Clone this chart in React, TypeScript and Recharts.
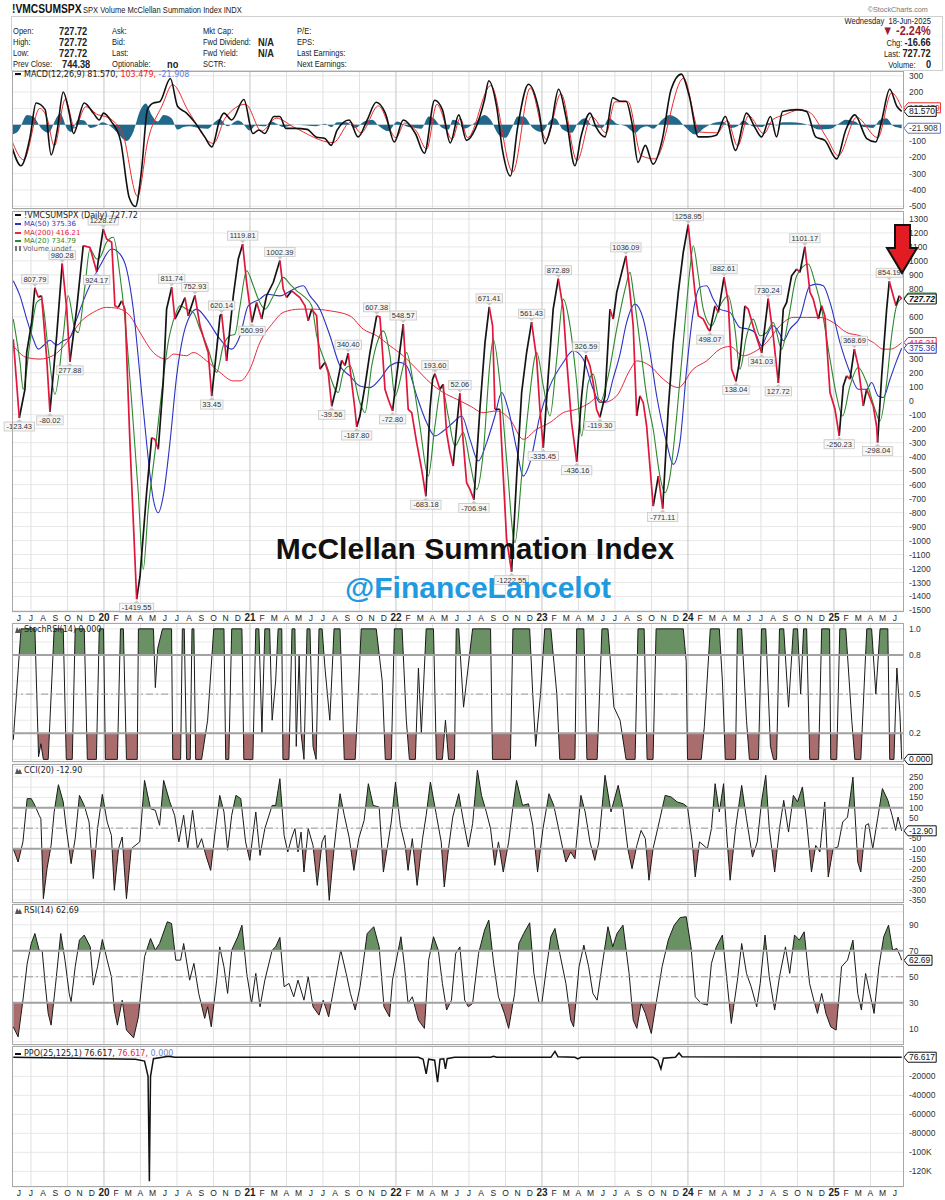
import React from 'react';
import {
  Area,
  CartesianGrid,
  ComposedChart,
  Line,
  ReferenceDot,
  ReferenceLine,
  XAxis,
  YAxis,
} from 'recharts';

// ─── Layout ──────────────────────────────────────────────────────────────────

const W = 945;
const PLOT_LEFT = 13;
const AXIS_W = 42;
const PLOT_W = W - PLOT_LEFT - AXIS_W;
const X_START = 2019.377;
const X_END = 2025.473;

const UI_FONT = "'Liberation Sans', Arial, sans-serif";
const NARROW = "'Liberation Sans Narrow', 'Liberation Sans', Arial, sans-serif";
const LEGEND_FONT = "'DejaVu Sans', Verdana, sans-serif";

const GREEN_FILL = '#6a9163';
const RED_FILL = '#a96d6d';

// ─── Time axis labels ────────────────────────────────────────────────────────

const monthLetters = ['J', 'F', 'M', 'A', 'M', 'J', 'J', 'A', 'S', 'O', 'N', 'D'];
const FIRST_YEAR = 2019;
const FIRST_MONTH = 5; // June
const MONTH_COUNT = 73;

const monthTicks: number[] = [];
const monthIndex: number[] = [];
const monthLabels: string[] = [];
for (let i = 0; i < MONTH_COUNT; i++) {
  const m = (FIRST_MONTH + i) % 12;
  const y = FIRST_YEAR + Math.floor((FIRST_MONTH + i) / 12);
  monthTicks.push(y + m / 12);
  monthIndex.push(m);
  monthLabels.push(m === 0 ? String(y).slice(2) : monthLetters[m]);
}
const quarterTicks = monthTicks.filter((_, i) => monthIndex[i] % 3 === 0 && monthIndex[i] !== 0);
const yearTicks = monthTicks.filter((_, i) => monthIndex[i] === 0);

// ─── Summation index (daily close, read at turning points) ───────────────────

const sumDates = [
  2019.379, 2019.42, 2019.459, 2019.471, 2019.505, 2019.527, 2019.55, 2019.573, 2019.608, 2019.63,
  2019.676, 2019.714, 2019.745, 2019.767, 2019.813, 2019.858, 2019.904, 2019.95, 2019.995, 2020.018,
  2020.053, 2020.075, 2020.098, 2020.121, 2020.144, 2020.178, 2020.224, 2020.247, 2020.292, 2020.327,
  2020.349, 2020.372, 2020.406, 2020.429, 2020.464, 2020.486, 2020.521, 2020.555, 2020.577, 2020.623,
  2020.658, 2020.692, 2020.714, 2020.738, 2020.772, 2020.795, 2020.806, 2020.84, 2020.886, 2020.92,
  2020.95, 2020.977, 2021.014, 2021.046, 2021.08, 2021.114, 2021.16, 2021.205, 2021.228, 2021.251,
  2021.286, 2021.342, 2021.377, 2021.399, 2021.423, 2021.457, 2021.479, 2021.514, 2021.536, 2021.56,
  2021.594, 2021.628, 2021.651, 2021.673, 2021.697, 2021.719, 2021.731, 2021.753, 2021.788, 2021.822,
  2021.868, 2021.89, 2021.902, 2021.925, 2021.947, 2021.977, 2022.005, 2022.05, 2022.084, 2022.108,
  2022.142, 2022.176, 2022.205, 2022.233, 2022.251, 2022.267, 2022.301, 2022.324, 2022.347, 2022.37,
  2022.392, 2022.416, 2022.438, 2022.461, 2022.484, 2022.507, 2022.534, 2022.575, 2022.61, 2022.639,
  2022.662, 2022.678, 2022.712, 2022.735, 2022.758, 2022.792, 2022.827, 2022.861, 2022.895, 2022.929,
  2022.964, 2022.986, 2023.009, 2023.043, 2023.077, 2023.112, 2023.146, 2023.169, 2023.203, 2023.238,
  2023.272, 2023.301, 2023.329, 2023.351, 2023.374, 2023.397, 2023.432, 2023.466, 2023.488, 2023.512,
  2023.575, 2023.603, 2023.625, 2023.649, 2023.671, 2023.694, 2023.717, 2023.762, 2023.797, 2023.827,
  2023.865, 2023.899, 2023.934, 2023.968, 2024.002, 2024.025, 2024.048, 2024.071, 2024.105, 2024.139,
  2024.151, 2024.185, 2024.208, 2024.247, 2024.276, 2024.299, 2024.329, 2024.356, 2024.39, 2024.413,
  2024.459, 2024.505, 2024.55, 2024.584, 2024.619, 2024.653, 2024.676, 2024.71, 2024.745, 2024.767,
  2024.801, 2024.836, 2024.858, 2024.893, 2024.916, 2024.938, 2024.973, 2025.007, 2025.036, 2025.064,
  2025.087, 2025.11, 2025.14, 2025.166, 2025.201, 2025.224, 2025.269, 2025.292, 2025.299, 2025.327,
  2025.361, 2025.379, 2025.406, 2025.425, 2025.447, 2025.464,
];
const sumValues = [
  440, -123.43, 82, 347, 562, 807.79, 741, 750, 300, -80.02,
  464, 980.28, 655, 277.88, 655, 1109, 1097, 924.17, 1228.27, 1157,
  1133, 679, 667, 715, 655, -300, -1419.55, -1255, -658, -264,
  -276, -347, 130, 655, 811.74, 584, 655, 738, 607, 752.93,
  536, 417, 345, 33.45, 369, 607, 620.14, 285, 751, 1014,
  1119.81, 847, 560.99, 703, 584, 751, 847, 1002.39, 799, 738,
  786, 738, 679, 572, 655, 607, 226, 274, 202, -39.56,
  106, 289, 252, 340.4, 130, -61, -187.8, -110, 106, 345,
  607.38, 600, 440, 82, 11, -72.8, 178, 548.57, -61, -85,
  -299, -491, -683.18, -61, 154, 193.6, 82, 118, -228, -371,
  -467, -180, 52.06, -299, -586, -634, -706.94, -61, 417, 671.41,
  536, -61, -61, -539, -992, -1222.55, -539, 59, 345, 561.43,
  297, -61, -335.45, 178, 655, 872.89, 655, 297, -156, -436.16,
  34, 326.59, 249, 130, -61, -119.3, 34, 655, 584, 775,
  1036.09, 775, 536, -109, 34, -14, -181, -754, -539, -771.11,
  -61, 417, 775, 1062, 1258.95, 1014, 775, 607, 584, 512,
  498.07, 679, 632, 882.61, 703, 226, 138.04, 297, 679, 655,
  488, 341.03, 730.24, 465, 127.72, 655, 703, 894, 942, 918,
  1101.17, 775, 727, 584, 679, 607, 59, -61, -250.23, 106,
  178, 154, 368.69, 249, -37, 82, -37, -181, -298.04, 178,
  655, 854.19, 751, 679, 751, 727.72,
];

// ─── Moving averages ─────────────────────────────────────────────────────────

const ma20Dates = [
  2019.379, 2019.425, 2019.447, 2019.493, 2019.539, 2019.573, 2019.618, 2019.664, 2019.721, 2019.755,
  2019.801, 2019.824, 2019.87, 2019.904, 2019.95, 2019.973, 2020.018, 2020.064, 2020.11, 2020.144,
  2020.19, 2020.235, 2020.269, 2020.303, 2020.349, 2020.395, 2020.44, 2020.486, 2020.521, 2020.566,
  2020.612, 2020.658, 2020.714, 2020.749, 2020.772, 2020.817, 2020.863, 2020.897, 2020.932, 2020.977,
  2021.023, 2021.057, 2021.103, 2021.149, 2021.194, 2021.228, 2021.274, 2021.32, 2021.365, 2021.423,
  2021.457, 2021.525, 2021.605, 2021.639, 2021.685, 2021.753, 2021.788, 2021.834, 2021.879, 2021.913,
  2021.959, 2021.993, 2022.05, 2022.073, 2022.118, 2022.164, 2022.221, 2022.267, 2022.313, 2022.358,
  2022.404, 2022.461, 2022.507, 2022.553, 2022.598, 2022.644, 2022.666, 2022.712, 2022.758, 2022.815,
  2022.861, 2022.906, 2022.964, 2023.009, 2023.055, 2023.101, 2023.146, 2023.192, 2023.238, 2023.272,
  2023.317, 2023.351, 2023.397, 2023.454, 2023.512, 2023.575, 2023.603, 2023.626, 2023.671, 2023.717,
  2023.762, 2023.808, 2023.842, 2023.877, 2023.923, 2023.968, 2024.014, 2024.036, 2024.071, 2024.105,
  2024.162, 2024.219, 2024.276, 2024.322, 2024.356, 2024.402, 2024.447, 2024.493, 2024.539, 2024.584,
  2024.642, 2024.688, 2024.745, 2024.824, 2024.87, 2024.916, 2024.973, 2025.018, 2025.059, 2025.11,
  2025.166, 2025.224, 2025.281, 2025.315, 2025.361, 2025.395, 2025.429, 2025.464,
];
const ma20Values = [
  584, 274, 82, 417, 703, 727, 369, 47, 465, 751,
  512, 488, 822, 1085, 1014, 1025, 1133, 1169, 894, 584,
  -13, -658, -1207, -778, -371, 59, 417, 607, 679, 655,
  632, 512, 369, 250, 202, 393, 465, 476, 679, 930,
  822, 727, 655, 727, 822, 882, 834, 786, 750, 679,
  465, 250, 59, 202, 250, -13, -85, 250, 440, 500,
  322, 35, 250, 345, 130, -180, -539, -180, 106, -109,
  -324, -228, -443, -634, -371, 274, 440, 130, -419, -1015,
  -539, -61, 345, 106, -109, 297, 727, 536, 130, -252,
  130, 190, -13, 178, 512, 822, 918, 775, 417, 34,
  -204, -539, -658, -539, -109, 417, 942, 1109, 894, 655,
  536, 679, 751, 512, 226, 465, 584, 465, 488, 560,
  369, 584, 894, 978, 846, 655, 297, 34, -109, 106,
  238, 130, -61, -145, 130, 465, 679, 734.79,
];

const ma50Dates = [
  2019.379, 2019.425, 2019.471, 2019.516, 2019.55, 2019.584, 2019.63, 2019.676, 2019.721, 2019.767,
  2019.813, 2019.882, 2019.973, 2020.053, 2020.11, 2020.155, 2020.201, 2020.247, 2020.292, 2020.338,
  2020.372, 2020.406, 2020.452, 2020.498, 2020.543, 2020.589, 2020.635, 2020.703, 2020.795, 2020.875,
  2020.932, 2020.988, 2021.068, 2021.114, 2021.205, 2021.297, 2021.365, 2021.411, 2021.479, 2021.548,
  2021.616, 2021.685, 2021.753, 2021.822, 2021.89, 2021.959, 2022.027, 2022.073, 2022.142, 2022.21,
  2022.267, 2022.324, 2022.392, 2022.45, 2022.507, 2022.564, 2022.621, 2022.678, 2022.724, 2022.769,
  2022.827, 2022.872, 2022.918, 2022.986, 2023.055, 2023.146, 2023.214, 2023.283, 2023.351, 2023.397,
  2023.443, 2023.488, 2023.534, 2023.58, 2023.637, 2023.694, 2023.74, 2023.786, 2023.854, 2023.899,
  2023.945, 2023.991, 2024.036, 2024.082, 2024.128, 2024.173, 2024.219, 2024.288, 2024.356, 2024.413,
  2024.459, 2024.505, 2024.539, 2024.584, 2024.63, 2024.653, 2024.699, 2024.767, 2024.836, 2024.881,
  2024.927, 2024.973, 2025.041, 2025.11, 2025.166, 2025.224, 2025.258, 2025.303, 2025.338, 2025.384,
  2025.429, 2025.464,
];
const ma50Values = [
  858, 750, 584, 440, 369, 393, 433, 398, 429, 453,
  584, 775, 965, 1085, 1049, 942, 655, 178, -300, -706,
  -801, -682, -300, 178, 465, 607, 655, 584, 440, 369,
  465, 679, 727, 762, 750, 798, 822, 750, 655, 465,
  250, 178, 106, 94, 154, 250, 274, 250, 35, -156,
  -252, -216, -156, -109, -276, -431, -300, -109, 59, -61,
  -347, -539, -443, -109, 106, 274, 357, 297, 82, -13,
  0, 160, 330, 560, 691, 584, 345, 34, -300, -455,
  -300, 226, 632, 811, 822, 727, 655, 632, 524, 512,
  488, 393, 465, 536, 476, 429, 512, 596, 822, 834,
  822, 703, 417, 202, 82, 82, 130, 34, 23, 154,
  285, 375.36,
];

const ma200Dates = [
  2019.379, 2019.471, 2019.562, 2019.653, 2019.745, 2019.836, 2019.927, 2020.018, 2020.087, 2020.178,
  2020.247, 2020.338, 2020.429, 2020.475, 2020.566, 2020.612, 2020.703, 2020.795, 2020.886, 2020.932,
  2021.0, 2021.068, 2021.16, 2021.228, 2021.342, 2021.434, 2021.548, 2021.685, 2021.776, 2021.868,
  2021.959, 2022.05, 2022.142, 2022.233, 2022.324, 2022.416, 2022.507, 2022.598, 2022.69, 2022.781,
  2022.872, 2022.964, 2023.055, 2023.146, 2023.238, 2023.329, 2023.375, 2023.42, 2023.512, 2023.603,
  2023.651, 2023.74, 2023.831, 2023.934, 2024.036, 2024.128, 2024.219, 2024.288, 2024.379, 2024.447,
  2024.539, 2024.63, 2024.721, 2024.813, 2024.904, 2024.995, 2025.087, 2025.178, 2025.269, 2025.338,
  2025.384, 2025.464,
];
const ma200Values = [
  393, 309, 298, 324, 417, 560, 632, 668, 662, 607,
  488, 345, 298, 334, 322, 345, 285, 202, 142, 142,
  226, 417, 560, 632, 655, 655, 643, 607, 512, 465,
  393, 321, 226, 130, 59, 11, -37, -85, -73, -133,
  -276, -204, -156, -85, -61, -13, 23, -13, 35, 220,
  285, 250, 154, 94, 226, 285, 369, 388, 321, 345,
  417, 536, 596, 596, 596, 560, 488, 465, 417, 369,
  369, 416.21,
];

// ─── Annotated swing highs / lows ────────────────────────────────────────────

const tagDates = [
  2019.42, 2019.527, 2019.63, 2019.714, 2019.767, 2019.95, 2019.995, 2020.224, 2020.464, 2020.623,
  2020.738, 2020.806, 2020.95, 2021.014, 2021.205, 2021.56, 2021.673, 2021.731, 2021.868, 2021.977,
  2022.05, 2022.205, 2022.267, 2022.438, 2022.534, 2022.639, 2022.792, 2022.929, 2023.009, 2023.112,
  2023.238, 2023.301, 2023.397, 2023.575, 2023.827, 2024.002, 2024.151, 2024.247, 2024.329, 2024.505,
  2024.55, 2024.619, 2024.801, 2025.036, 2025.14, 2025.299, 2025.379,
];
const tagValues = [
  -123.43, 807.79, -80.02, 980.28, 277.88, 924.17, 1228.27, -1419.55, 811.74, 752.93,
  33.45, 620.14, 1119.81, 560.99, 1002.39, -39.56, 340.4, -187.8, 607.38, -72.8,
  548.57, -683.18, 193.6, 52.06, -706.94, 671.41, -1222.55, 561.43, -335.45, 872.89,
  -436.16, 326.59, -119.3, 1036.09, -771.11, 1258.95, 498.07, 882.61, 138.04, 341.03,
  730.24, 127.72, 1101.17, -250.23, 368.69, -298.04, 854.19,
];
// 'a' = label above the point, 'b' = below
const tagSides = [
  'b', 'a', 'b', 'a', 'b', 'b', 'a', 'b', 'a', 'a',
  'b', 'a', 'a', 'b', 'a', 'b', 'a', 'b', 'a', 'b',
  'a', 'b', 'a', 'a', 'b', 'a', 'b', 'a', 'b', 'a',
  'b', 'a', 'b', 'a', 'b', 'a', 'b', 'a', 'b', 'b',
  'a', 'b', 'a', 'b', 'a', 'b', 'a',
];

// ─── MACD(12,26,9) ───────────────────────────────────────────────────────────

const macdDates = [
  2019.37, 2019.432, 2019.494, 2019.535, 2019.597, 2019.638, 2019.68, 2019.721, 2019.762, 2019.791,
  2019.865, 2019.927, 2019.968, 2019.997, 2020.051, 2020.113, 2020.174, 2020.216, 2020.257, 2020.298,
  2020.339, 2020.381, 2020.455, 2020.504, 2020.566, 2020.628, 2020.69, 2020.739, 2020.793, 2020.822,
  2020.875, 2020.958, 2021.02, 2021.061, 2021.102, 2021.164, 2021.205, 2021.246, 2021.308, 2021.391,
  2021.453, 2021.514, 2021.556, 2021.597, 2021.679, 2021.741, 2021.803, 2021.865, 2021.927, 2021.989,
  2022.05, 2022.133, 2022.195, 2022.265, 2022.318, 2022.372, 2022.43, 2022.483, 2022.545, 2022.607,
  2022.636, 2022.689, 2022.73, 2022.784, 2022.834, 2022.908, 2022.978, 2023.019, 2023.061, 2023.114,
  2023.164, 2023.226, 2023.267, 2023.329, 2023.37, 2023.432, 2023.485, 2023.535, 2023.576, 2023.617,
  2023.658, 2023.708, 2023.761, 2023.823, 2023.885, 2023.955, 2024.009, 2024.071, 2024.133, 2024.194,
  2024.256, 2024.326, 2024.401, 2024.462, 2024.504, 2024.565, 2024.607, 2024.648, 2024.751, 2024.813,
  2024.875, 2024.937, 2025.019, 2025.081, 2025.143, 2025.225, 2025.287, 2025.328, 2025.382, 2025.431,
  2025.464,
];
const macdValues = [
  -137, -252, -75, 133, 92, -185, -33, 200, 71, -54,
  133, 71, 29, 71, 19, -96, -450, -502, -283, 92,
  133, 140, 283, 113, 71, 8, -75, -137, 29, 71,
  29, 154, -54, -33, -54, 50, 50, -23, -23, -29,
  -75, -85, -127, -33, 29, -75, 29, 137, 71, -106,
  29, -54, -175, 150, 92, -112, 60, -96, -23, 154,
  269, 113, -158, -315, -13, 248, 92, -117, -13, 217,
  50, -252, -75, 71, -13, -75, 165, 144, 144, 8,
  -231, -127, -242, -96, 217, 310, 175, -75, -75, -65,
  50, -158, 71, -23, -75, 50, -75, 81, 92, 81,
  -75, -96, -210, -33, 60, -85, -106, 29, 217, 113,
  81.57,
];

const signalDates = [
  2019.37, 2019.45, 2019.56, 2019.61, 2019.66, 2019.735, 2019.8, 2019.875, 2019.96, 2020.01,
  2020.06, 2020.13, 2020.23, 2020.3, 2020.4, 2020.47, 2020.58, 2020.75, 2020.83, 2020.97,
  2021.08, 2021.18, 2021.3, 2021.57, 2021.69, 2021.76, 2021.88, 2022.0, 2022.06, 2022.14,
  2022.21, 2022.28, 2022.385, 2022.44, 2022.49, 2022.65, 2022.8, 2022.92, 2023.03, 2023.13,
  2023.24, 2023.34, 2023.44, 2023.5, 2023.59, 2023.68, 2023.775, 2023.97, 2024.08, 2024.2,
  2024.27, 2024.34, 2024.415, 2024.52, 2024.58, 2024.66, 2024.76, 2024.825, 2024.95, 2025.03,
  2025.155, 2025.3, 2025.395, 2025.464,
];
const signalValues = [
  -100, -215, 100, 40, -130, 155, -20, 110, 60, 50,
  25, -60, -440, -100, 120, 245, 80, -115, 40, 125,
  -40, 40, -15, -110, 15, -50, 115, -80, 10, -40,
  -150, 125, -90, 40, -80, 240, -290, 225, -90, 190,
  -220, 50, -50, 140, 140, -190, -210, 285, -45, -50,
  25, -130, 55, -55, 30, 60, 90, 80, -80, -190,
  45, -80, 195, 103.479,
];

const histDates = [
  2019.37, 2019.412, 2019.474, 2019.515, 2019.577, 2019.618, 2019.68, 2019.7, 2019.75, 2019.775,
  2019.824, 2019.865, 2019.906, 2019.948, 2019.989, 2020.051, 2020.092, 2020.154, 2020.203, 2020.245,
  2020.286, 2020.327, 2020.368, 2020.409, 2020.463, 2020.504, 2020.546, 2020.587, 2020.649, 2020.71,
  2020.764, 2020.793, 2020.846, 2020.917, 2020.937, 2020.999, 2021.04, 2021.102, 2021.143, 2021.185,
  2021.226, 2021.308, 2021.391, 2021.453, 2021.514, 2021.556, 2021.597, 2021.659, 2021.721, 2021.782,
  2021.836, 2021.885, 2021.947, 2022.009, 2022.071, 2022.133, 2022.174, 2022.224, 2022.257, 2022.318,
  2022.36, 2022.389, 2022.43, 2022.463, 2022.545, 2022.607, 2022.648, 2022.702, 2022.751, 2022.793,
  2022.834, 2022.875, 2022.937, 2022.999, 2023.061, 2023.089, 2023.143, 2023.205, 2023.246, 2023.296,
  2023.349, 2023.411, 2023.461, 2023.514, 2023.576, 2023.638, 2023.679, 2023.72, 2023.761, 2023.823,
  2023.873, 2023.926, 2023.988, 2024.05, 2024.112, 2024.174, 2024.236, 2024.297, 2024.339, 2024.38,
  2024.442, 2024.504, 2024.557, 2024.607, 2024.648, 2024.71, 2024.772, 2024.834, 2024.895, 2024.978,
  2025.04, 2025.081, 2025.143, 2025.205, 2025.266, 2025.316, 2025.357, 2025.41, 2025.452, 2025.464,
];
const histValues = [
  -60, -40, 60, 50, -30, -50, 50, 70, -30, -45,
  30, 25, -20, -10, 15, -15, -50, -100, -40, 80,
  130, 60, 20, 60, 40, -30, -15, -10, -20, -25,
  20, 35, -10, 25, 20, -35, -5, -10, 20, 5,
  -15, 0, -5, -10, 5, -15, 15, 15, -20, 20,
  30, -10, -40, 20, -10, -20, -25, 50, 40, -20,
  -30, 30, 15, -25, 15, 60, 30, -60, -80, -20,
  50, 50, -20, -45, 30, 40, -30, -50, 10, 40,
  -10, -20, 40, 5, -10, -50, -20, -10, -25, 30,
  60, 40, -20, -60, -20, 10, 20, -20, -10, 25,
  -10, -15, 10, -5, 15, 15, 10, -5, -30, -25,
  10, 30, 20, -15, -20, 30, 40, -10, -20, -21.908,
];

// ─── StochRSI(14) ────────────────────────────────────────────────────────────

const stochDates = [
  2019.379, 2019.432, 2019.527, 2019.552, 2019.568, 2019.585, 2019.618, 2019.659, 2019.721, 2019.742,
  2019.783, 2019.803, 2019.865, 2019.886, 2019.948, 2019.968, 2019.997, 2020.01, 2020.092, 2020.113,
  2020.133, 2020.154, 2020.228, 2020.236, 2020.339, 2020.352, 2020.368, 2020.401, 2020.463, 2020.471,
  2020.525, 2020.537, 2020.55, 2020.566, 2020.591, 2020.603, 2020.616, 2020.628, 2020.669, 2020.71,
  2020.752, 2020.822, 2020.834, 2020.855, 2020.875, 2020.945, 2020.958, 2021.02, 2021.04, 2021.061,
  2021.082, 2021.102, 2021.135, 2021.152, 2021.176, 2021.193, 2021.218, 2021.226, 2021.267, 2021.288,
  2021.308, 2021.317, 2021.337, 2021.35, 2021.37, 2021.391, 2021.411, 2021.432, 2021.453, 2021.473,
  2021.494, 2021.514, 2021.547, 2021.576, 2021.617, 2021.646, 2021.721, 2021.762, 2021.865, 2021.906,
  2021.927, 2021.968, 2021.989, 2022.042, 2022.071, 2022.092, 2022.133, 2022.154, 2022.174, 2022.207,
  2022.257, 2022.277, 2022.318, 2022.339, 2022.36, 2022.401, 2022.413, 2022.43, 2022.463, 2022.504,
  2022.525, 2022.648, 2022.661, 2022.784, 2022.801, 2022.916, 2022.937, 2022.957, 2022.99, 2023.019,
  2023.061, 2023.102, 2023.122, 2023.226, 2023.238, 2023.287, 2023.308, 2023.378, 2023.411, 2023.452,
  2023.493, 2023.535, 2023.576, 2023.638, 2023.658, 2023.7, 2023.72, 2023.761, 2023.782, 2023.968,
  2023.988, 2023.997, 2024.091, 2024.112, 2024.153, 2024.215, 2024.236, 2024.256, 2024.326, 2024.339,
  2024.368, 2024.401, 2024.421, 2024.483, 2024.504, 2024.533, 2024.565, 2024.586, 2024.607, 2024.627,
  2024.656, 2024.689, 2024.722, 2024.751, 2024.772, 2024.792, 2024.813, 2024.834, 2024.895, 2024.916,
  2024.97, 2024.978, 2025.019, 2025.04, 2025.081, 2025.122, 2025.143, 2025.184, 2025.225, 2025.258,
  2025.287, 2025.316, 2025.369, 2025.382, 2025.411, 2025.431, 2025.452, 2025.464,
];
const stochValues = [
  0.15, 1, 1, 0.02, 0.12, 0, 0, 1, 1, 0,
  0, 1, 1, 0, 0, 1, 1, 0, 0, 1,
  1, 0, 0, 1, 1, 0.55, 0.85, 1, 1, 0,
  0, 1, 1, 0, 0, 1, 1, 0, 0, 0.3,
  1, 1, 0, 0, 1, 1, 0, 0, 1, 1,
  0.2, 1, 1, 0.3, 0.6, 1, 1, 0, 0, 1,
  1, 0.1, 0.8, 0.2, 0, 1, 1, 0.1, 0, 1,
  1, 0.7, 0.3, 1, 1, 0, 0, 1, 1, 0.6,
  0, 0, 1, 1, 0.3, 0, 0, 0.7, 0.2, 1,
  1, 0, 0, 0.3, 0, 0, 1, 1, 0.4, 0.8,
  1, 1, 0, 0, 1, 1, 0.5, 0.1, 0.5, 1,
  1, 0.5, 0, 0, 1, 1, 0, 0, 1, 1,
  0.4, 0.3, 0, 0, 1, 1, 0, 0, 1, 1,
  0.75, 0, 0, 0.25, 1, 1, 0.6, 0, 0, 1,
  1, 0.3, 0, 0, 1, 1, 0.1, 0, 0, 1,
  1, 0.4, 1, 1, 0.5, 1, 1, 0, 0, 1,
  1, 0, 0, 1, 1, 0.3, 0, 0, 1, 1,
  0.5, 1, 1, 0, 0, 0.7, 0.35, 0,
];

// ─── CCI(20) ─────────────────────────────────────────────────────────────────

const cciDates = [
  2019.379, 2019.412, 2019.445, 2019.474, 2019.502, 2019.527, 2019.556, 2019.568, 2019.585, 2019.61,
  2019.638, 2019.659, 2019.688, 2019.721, 2019.742, 2019.775, 2019.803, 2019.832, 2019.865, 2019.898,
  2019.927, 2019.956, 2019.989, 2020.022, 2020.051, 2020.071, 2020.1, 2020.125, 2020.154, 2020.187,
  2020.245, 2020.278, 2020.319, 2020.352, 2020.381, 2020.409, 2020.451, 2020.484, 2020.513, 2020.546,
  2020.574, 2020.607, 2020.64, 2020.669, 2020.698, 2020.731, 2020.764, 2020.793, 2020.822, 2020.847,
  2020.875, 2020.904, 2020.937, 2020.97, 2020.999, 2021.04, 2021.069, 2021.102, 2021.152, 2021.176,
  2021.205, 2021.234, 2021.259, 2021.284, 2021.308, 2021.329, 2021.35, 2021.37, 2021.399, 2021.432,
  2021.461, 2021.494, 2021.514, 2021.543, 2021.576, 2021.617, 2021.646, 2021.679, 2021.712, 2021.745,
  2021.782, 2021.811, 2021.844, 2021.885, 2021.914, 2021.947, 2021.968, 2021.997, 2022.03, 2022.063,
  2022.083, 2022.112, 2022.145, 2022.182, 2022.207, 2022.236, 2022.277, 2022.31, 2022.331, 2022.36,
  2022.389, 2022.43, 2022.463, 2022.496, 2022.525, 2022.558, 2022.586, 2022.619, 2022.648, 2022.677,
  2022.702, 2022.735, 2022.772, 2022.801, 2022.826, 2022.867, 2022.908, 2022.937, 2022.97, 2023.007,
  2023.048, 2023.081, 2023.114, 2023.143, 2023.164, 2023.197, 2023.226, 2023.267, 2023.296, 2023.329,
  2023.362, 2023.39, 2023.432, 2023.473, 2023.522, 2023.555, 2023.588, 2023.617, 2023.65, 2023.679,
  2023.708, 2023.733, 2023.761, 2023.803, 2023.844, 2023.885, 2023.926, 2023.968, 2023.997, 2024.029,
  2024.05, 2024.079, 2024.133, 2024.161, 2024.186, 2024.215, 2024.244, 2024.269, 2024.289, 2024.326,
  2024.368, 2024.401, 2024.442, 2024.475, 2024.504, 2024.533, 2024.557, 2024.594, 2024.627, 2024.656,
  2024.689, 2024.722, 2024.751, 2024.784, 2024.813, 2024.846, 2024.875, 2024.904, 2024.937, 2024.961,
  2024.994, 2025.027, 2025.06, 2025.093, 2025.13, 2025.163, 2025.184, 2025.217, 2025.237, 2025.266,
  2025.299, 2025.332, 2025.369, 2025.398, 2025.423, 2025.439, 2025.464,
];
const cciValues = [
  -100, -165, -67, 144, 144, 111, 63, 46, -344, -197,
  -84, 79, 212, 128, -2, -173, -51, 160, 111, 30,
  -246, -2, 165, 30, -35, -303, -100, -43, -344, -100,
  -67, 233, 95, 87, 14, 233, 128, 63, -67, 63,
  -100, 87, -100, -51, -133, -206, -2, 160, 79, -108,
  63, 160, 144, -67, -157, 79, -133, -2, 111, 111,
  241, -35, -116, -51, -2, -116, -19, -214, -2, -84,
  -279, -67, -35, -352, -100, 168, 63, -43, -206, -51,
  38, 217, 111, 103, -214, -67, 30, 225, 14, -84,
  -206, -51, -279, -51, 63, 225, 63, -67, -287, -100,
  54, 168, 30, -92, 22, 282, 160, 79, -2, -181,
  -67, -214, -67, 103, 233, 111, 119, 14, -214, -2,
  168, 111, -2, -100, -165, -116, -149, 160, 79, -67,
  -157, -67, 258, 79, 209, 95, -100, -198, -84, -11,
  -51, -254, -100, 30, 160, 152, 128, 119, 103, -67,
  -238, -67, -100, -2, 217, 79, 217, -67, -254, -2,
  209, 46, -141, -67, 128, 258, -2, -214, -2, 136,
  -19, 160, 128, 201, 30, -214, -84, -116, 128, -238,
  -100, -92, 30, 54, 249, -165, -214, 14, 22, -100,
  46, 193, 136, 63, -11, 54, -12.9,
];

// ─── RSI(14) ─────────────────────────────────────────────────────────────────

const rsiDates = [
  2019.379, 2019.412, 2019.445, 2019.474, 2019.502, 2019.527, 2019.556, 2019.577, 2019.597, 2019.618,
  2019.638, 2019.667, 2019.704, 2019.733, 2019.762, 2019.775, 2019.803, 2019.832, 2019.865, 2019.906,
  2019.927, 2019.956, 2019.989, 2020.022, 2020.051, 2020.071, 2020.092, 2020.125, 2020.154, 2020.203,
  2020.236, 2020.278, 2020.319, 2020.352, 2020.381, 2020.434, 2020.463, 2020.492, 2020.525, 2020.546,
  2020.587, 2020.616, 2020.649, 2020.69, 2020.71, 2020.735, 2020.772, 2020.793, 2020.822, 2020.847,
  2020.875, 2020.917, 2020.945, 2020.978, 2021.011, 2021.04, 2021.069, 2021.102, 2021.152, 2021.176,
  2021.205, 2021.234, 2021.267, 2021.3, 2021.329, 2021.37, 2021.399, 2021.432, 2021.473, 2021.502,
  2021.539, 2021.576, 2021.622, 2021.659, 2021.688, 2021.721, 2021.754, 2021.803, 2021.848, 2021.885,
  2021.918, 2021.956, 2021.976, 2022.034, 2022.059, 2022.083, 2022.112, 2022.154, 2022.195, 2022.224,
  2022.257, 2022.29, 2022.318, 2022.347, 2022.38, 2022.409, 2022.438, 2022.471, 2022.496, 2022.525,
  2022.566, 2022.607, 2022.636, 2022.669, 2022.702, 2022.743, 2022.772, 2022.813, 2022.842, 2022.875,
  2022.916, 2022.945, 2022.978, 2022.999, 2023.032, 2023.061, 2023.089, 2023.122, 2023.164, 2023.197,
  2023.217, 2023.254, 2023.287, 2023.32, 2023.349, 2023.378, 2023.411, 2023.452, 2023.485, 2023.514,
  2023.555, 2023.597, 2023.625, 2023.65, 2023.679, 2023.708, 2023.749, 2023.782, 2023.823, 2023.865,
  2023.906, 2023.947, 2023.988, 2024.021, 2024.05, 2024.091, 2024.133, 2024.161, 2024.194, 2024.236,
  2024.269, 2024.297, 2024.339, 2024.368, 2024.401, 2024.433, 2024.471, 2024.495, 2024.528, 2024.557,
  2024.594, 2024.627, 2024.668, 2024.697, 2024.73, 2024.763, 2024.796, 2024.833, 2024.862, 2024.887,
  2024.916, 2024.945, 2024.978, 2025.015, 2025.052, 2025.093, 2025.13, 2025.163, 2025.188, 2025.217,
  2025.246, 2025.275, 2025.308, 2025.341, 2025.374, 2025.402, 2025.431, 2025.456, 2025.464,
];
const rsiValues = [
  11.5, 3.8, 32, 60, 75.6, 83.3, 70.5, 70, 44.9, 21.8,
  12.8, 42.3, 83.3, 62.8, 37.2, 30.8, 57.7, 78.2, 82.1, 73,
  43.6, 57.7, 78.7, 62.8, 50, 24.4, 12.8, 32, 9, 3,
  19.2, 65.4, 79.5, 70.5, 75.6, 92.3, 91, 62.8, 62.8, 75.6,
  47.4, 60.3, 37.2, 18, 26.9, 11.5, 47.4, 73, 57.7, 37.2,
  70.5, 80.8, 89.7, 52.6, 29.5, 52.6, 26.9, 47.4, 70.5, 73,
  80.3, 42.3, 44.9, 34.6, 47.4, 32, 50, 26.9, 20.5, 32,
  19.2, 42.3, 70.5, 52.6, 37.2, 24.4, 42.3, 83.3, 88.5, 73,
  26.9, 19.2, 47.4, 80.8, 57.7, 29.5, 34.6, 16.7, 10.3, 62.8,
  80.8, 70.5, 44.9, 24.4, 32, 68, 73, 32, 26.9, 29.5,
  68, 85.9, 93.6, 60.3, 34.6, 21.8, 10.3, 37.2, 75.6, 83.3,
  91.5, 52.6, 30.8, 29.5, 57.7, 80.8, 87.2, 68, 44.9, 16.7,
  11.5, 57.7, 74.4, 57.7, 37.2, 32, 57.7, 88.5, 73, 83.3,
  89.7, 52.6, 16.7, 10.3, 29.5, 21.8, 6.4, 29.5, 57.7, 78.2,
  89.7, 95.6, 96.2, 73, 34.6, 29.5, 28.2, 60.3, 73, 82.1,
  44.9, 14.1, 47.4, 75.6, 52.6, 42.3, 26.9, 44.9, 82.1, 50,
  24.4, 50, 73, 52.6, 82.1, 78.2, 84.6, 44.9, 32, 21.8,
  37.2, 21.8, 11.5, 9, 57.7, 62.8, 78.2, 37.2, 24.4, 52.6,
  37.2, 21.8, 57.7, 80.8, 89.7, 70.5, 71.8, 65.4, 62.69,
];

// ─── PPO(25,125,1) ───────────────────────────────────────────────────────────

const ppoDates = [
  2019.379, 2020.216, 2020.278, 2020.302, 2020.311, 2020.319, 2020.339, 2020.401, 2020.442, 2020.484,
  2022.154, 2022.186, 2022.207, 2022.224, 2022.265, 2022.285, 2022.302, 2022.327, 2022.339, 2022.351,
  2022.401, 2022.648, 2022.669, 2022.69, 2023.061, 2023.089, 2023.11, 2023.226, 2023.246, 2023.267,
  2023.761, 2023.794, 2023.815, 2023.832, 2023.914, 2023.939, 2023.96, 2025.464,
];
const ppoValues = [
  0, -2000, -4000, -20000, -130400, -20000, -1500, 0, 1000, 0,
  0, -2000, -17400, -2000, -3000, -26100, -2000, -1500, -12200, -1500,
  0, 0, 1000, 0, 0, 6260, 500, 0, -1700, 0,
  0, -3000, -12200, -1000, 0, 4500, 500, 76.617,
];

// ─── Helpers ─────────────────────────────────────────────────────────────────

type Row = { t: number; v: number | null };

function toRows(ts: number[], vs: number[]): Row[] {
  return ts.map((t, i) => ({ t, v: vs[i] }));
}

/**
 * Splits the close series into rising / falling runs so each can be stroked
 * in its own colour. Two slots per direction keep neighbouring runs apart.
 */
function splitByDirection(ts: number[], vs: number[]): Row[][] {
  const slots = [0, 1, 2, 3].map(() => ts.map((t) => ({ t, v: null as number | null })));
  const runs = [0, 0];
  let i = 0;
  while (i < vs.length - 1) {
    const up = vs[i + 1] >= vs[i];
    let j = i + 1;
    while (j < vs.length - 1 && vs[j + 1] >= vs[j] === up) j++;
    const dir = up ? 0 : 1;
    const slot = dir * 2 + (runs[dir] % 2);
    runs[dir]++;
    for (let k = i; k <= j; k++) slots[slot][k].v = vs[k];
    i = j;
  }
  return slots;
}

const mainSlots = splitByDirection(sumDates, sumValues);
const ma20Rows = toRows(ma20Dates, ma20Values);
const ma50Rows = toRows(ma50Dates, ma50Values);
const ma200Rows = toRows(ma200Dates, ma200Values);
const macdRows = toRows(macdDates, macdValues);
const signalRows = toRows(signalDates, signalValues);
const histRows = toRows(histDates, histValues);
const stochRows = toRows(stochDates, stochValues);
const cciRows = toRows(cciDates, cciValues);
const rsiRows = toRows(rsiDates, rsiValues);
const ppoRows = toRows(ppoDates, ppoValues);

function range(from: number, to: number, step: number): number[] {
  const out: number[] = [];
  for (let v = from; step > 0 ? v <= to : v >= to; v += step) out.push(v);
  return out;
}

// ─── Small SVG pieces ────────────────────────────────────────────────────────

function MonthTick({ x, y, payload }: any) {
  const i = monthTicks.findIndex((t) => Math.abs(t - payload.value) < 1e-6);
  if (i < 0) return null;
  const label = monthLabels[i];
  const isYear = monthIndex[i] === 0;
  return (
    <text
      x={x}
      y={y + 9}
      textAnchor="middle"
      fontSize={isYear ? 10 : 8.5}
      fontWeight={isYear ? 700 : 400}
      fontFamily={NARROW}
      fill="#222"
    >
      {label}
    </text>
  );
}

function Badge({ viewBox, text, color, textColor, bold, italic }: any) {
  if (!viewBox) return null;
  const x = viewBox.x + viewBox.width + 1;
  const y = viewBox.y + (viewBox.height || 0) / 2;
  const w = text.length * 4.2 + 7;
  return (
    <g>
      <path
        d={`M${x},${y} L${x + 4},${y - 5} L${x + w},${y - 5} L${x + w},${y + 5} L${x + 4},${y + 5} Z`}
        fill="#fff"
        stroke={color}
        strokeWidth={1}
      />
      <text
        x={x + 5}
        y={y + 3}
        fontSize={8.5}
        fontFamily={NARROW}
        fill={textColor || color}
        fontWeight={bold ? 700 : 400}
        fontStyle={italic ? 'italic' : 'normal'}
      >
        {text}
      </text>
    </g>
  );
}

function badgeLine(value: number, text: string, color: string, opts: any = {}) {
  return (
    <ReferenceLine
      key={`badge-${text}`}
      y={value}
      stroke={color}
      strokeOpacity={0}
      label={(p: any) => <Badge viewBox={p.viewBox} text={text} color={color} {...opts} />}
    />
  );
}

function PeakTag({ cx, cy, text, side }: any) {
  if (cx == null || cy == null) return null;
  const w = text.length * 3.9 + 3;
  const h = 9;
  const above = side === 'a';
  const baseY = above ? cy - 4 : cy + 4;
  const tipY = above ? cy - 1 : cy + 1;
  const boxY = above ? baseY - h : baseY;
  return (
    <g>
      <path d={`M${cx - 3},${baseY} L${cx},${tipY} L${cx + 3},${baseY} Z`} fill="#c9c9c9" />
      <rect x={cx - w / 2} y={boxY} width={w} height={h} fill="#f6f6f6" stroke="#c6c6c6" strokeWidth={0.8} />
      <text x={cx} y={boxY + 7} textAnchor="middle" fontSize={7.5} fontFamily={NARROW} fill="#333">
        {text}
      </text>
    </g>
  );
}

function bandGradient(id: string, domain: [number, number], plotH: number, hi: number, lo: number) {
  const [min, max] = domain;
  const oHi = (max - hi) / (max - min);
  const oLo = (max - lo) / (max - min);
  return (
    <defs>
      <linearGradient id={id} gradientUnits="userSpaceOnUse" x1="0" y1="0" x2="0" y2={plotH}>
        <stop offset={0} stopColor={GREEN_FILL} />
        <stop offset={oHi} stopColor={GREEN_FILL} />
        <stop offset={oHi} stopColor="#fff" stopOpacity={0} />
        <stop offset={oLo} stopColor="#fff" stopOpacity={0} />
        <stop offset={oLo} stopColor={RED_FILL} />
        <stop offset={1} stopColor={RED_FILL} />
      </linearGradient>
    </defs>
  );
}

function bandLines(hi: number, mid: number, lo: number) {
  return [
    <ReferenceLine key="hi" y={hi} stroke="#a2a2a2" strokeWidth={2} />,
    <ReferenceLine key="mid" y={mid} stroke="#999" strokeWidth={1} strokeDasharray="7 3 2 3" />,
    <ReferenceLine key="lo" y={lo} stroke="#a2a2a2" strokeWidth={2} />,
  ];
}

// ─── Panel shell ─────────────────────────────────────────────────────────────

interface PanelProps {
  top: number;
  plotH: number;
  domain: [number, number];
  ticks: number[];
  fmt: (v: number) => string;
  showMonths?: boolean;
  children?: React.ReactNode;
}

function Panel({ top, plotH, domain, ticks, fmt, showMonths, children }: PanelProps) {
  const h = plotH + (showMonths ? 11 : 0);
  return (
    <div style={{ position: 'absolute', left: 0, top, width: W, height: h }}>
      <ComposedChart width={W} height={h} margin={{ top: 0, right: 0, bottom: 0, left: PLOT_LEFT }}>
        <CartesianGrid vertical={false} stroke="#e8e8e8" />
        <CartesianGrid horizontal={false} verticalValues={quarterTicks} stroke="#e1e1e1" />
        <CartesianGrid horizontal={false} verticalValues={yearTicks} stroke="#c4c4c4" />
        <XAxis
          type="number"
          dataKey="t"
          domain={[X_START, X_END]}
          allowDataOverflow
          ticks={monthTicks}
          interval={0}
          hide={!showMonths}
          height={showMonths ? 11 : 0}
          axisLine={false}
          tickLine={false}
          tickSize={0}
          tickMargin={0}
          tick={(p: any) => <MonthTick {...p} />}
        />
        <YAxis
          orientation="right"
          type="number"
          domain={domain}
          allowDataOverflow
          ticks={ticks}
          interval={0}
          width={AXIS_W}
          axisLine={false}
          tickLine={false}
          tickSize={3}
          tickMargin={3}
          tickFormatter={fmt}
          tick={{ fontSize: 8.5, fill: '#333', fontFamily: NARROW }}
        />
        {children}
      </ComposedChart>
      <div
        style={{
          position: 'absolute',
          left: PLOT_LEFT - 1,
          top: 0,
          width: PLOT_W + 2,
          height: plotH,
          border: '1px solid #a8a8a8',
          boxSizing: 'border-box',
          pointerEvents: 'none',
        }}
      />
    </div>
  );
}

// ─── HTML text helpers ───────────────────────────────────────────────────────

function Txt({ x, y, children, size = 9, bold = false, color = '#222', right = false, font = UI_FONT, squeeze = 0.84 }: any) {
  return (
    <div
      style={{
        position: 'absolute',
        top: y - 6,
        ...(right ? { right: W - x } : { left: x }),
        fontFamily: font,
        fontSize: size,
        fontWeight: bold ? 700 : 400,
        color,
        whiteSpace: 'nowrap',
        lineHeight: '12px',
        transform: `scaleX(${squeeze})`,
        transformOrigin: right ? 'right center' : 'left center',
      }}
    >
      {children}
    </div>
  );
}

const Dash = ({ c }: { c: string }) => (
  <span
    style={{ display: 'inline-block', width: 6, height: 2, background: c, verticalAlign: 'middle', marginRight: 3 }}
  />
);

const Mountain = () => (
  <svg width="7" height="7" style={{ verticalAlign: 'middle', marginRight: 2 }}>
    <path d="M0,7 L2,1 L3.5,4 L5,2 L7,7 Z" fill="#555" />
  </svg>
);

function Legend({ x = 15, y, size = 8, children }: any) {
  return (
    <div
      style={{
        position: 'absolute',
        left: x,
        top: y - 5,
        fontFamily: LEGEND_FONT,
        fontSize: size,
        lineHeight: '10px',
        whiteSpace: 'nowrap',
        color: '#222',
      }}
    >
      {children}
    </div>
  );
}

function Header() {
  const rows = [30.7, 42.3, 53.3, 64.3];
  return (
    <>
      <Txt x={12} y={9} size={12.5} bold color="#111" squeeze={0.82}>
        !VMCSUMSPX
      </Txt>
      <Txt x={83} y={9.5} size={9}>
        SPX Volume McClellan Summation Index INDX
      </Txt>
      <Txt x={928} y={10} size={8} color="#777" right squeeze={0.9}>
        ©StockCharts.com
      </Txt>
      <div
        style={{
          position: 'absolute',
          left: 11,
          top: 16,
          width: 932,
          height: 55,
          border: '1px solid #d0d0d0',
          boxSizing: 'border-box',
        }}
      />
      <Txt x={13} y={rows[0]}>Open:</Txt>
      <Txt x={13} y={rows[1]}>High:</Txt>
      <Txt x={13} y={rows[2]}>Low:</Txt>
      <Txt x={13} y={rows[3]}>Prev Close:</Txt>
      <Txt x={59} y={rows[0]} size={11} bold>727.72</Txt>
      <Txt x={59} y={rows[1]} size={11} bold>727.72</Txt>
      <Txt x={59} y={rows[2]} size={11} bold>727.72</Txt>
      <Txt x={62} y={rows[3]} size={11} bold>744.38</Txt>
      <Txt x={112} y={rows[0]}>Ask:</Txt>
      <Txt x={112} y={rows[1]}>Bid:</Txt>
      <Txt x={112} y={rows[2]}>Last:</Txt>
      <Txt x={112} y={rows[3]}>Optionable:</Txt>
      <Txt x={167} y={rows[3]} size={11} bold>no</Txt>
      <Txt x={203} y={rows[0]}>Mkt Cap:</Txt>
      <Txt x={203} y={rows[1]}>Fwd Dividend:</Txt>
      <Txt x={203} y={rows[2]}>Fwd Yield:</Txt>
      <Txt x={203} y={rows[3]}>SCTR:</Txt>
      <Txt x={258} y={rows[1]} size={11} bold>N/A</Txt>
      <Txt x={258} y={rows[2]} size={11} bold>N/A</Txt>
      <Txt x={297} y={rows[0]}>P/E:</Txt>
      <Txt x={297} y={rows[1]}>EPS:</Txt>
      <Txt x={297} y={rows[2]}>Last Earnings:</Txt>
      <Txt x={297} y={rows[3]}>Next Earnings:</Txt>
      <Txt x={931} y={20.5} right>
        Wednesday&nbsp;&nbsp;18-Jun-2025
      </Txt>
      <Txt x={931} y={rows[0]} right size={13} bold color="#9b1b30">
        ▼ -2.24%
      </Txt>
      <Txt x={931} y={rows[1]} right>
        Chg: <b style={{ fontSize: 11 }}>-16.66</b>
      </Txt>
      <Txt x={931} y={rows[2]} right>
        Last: <b style={{ fontSize: 11 }}>727.72</b>
      </Txt>
      <Txt x={931} y={rows[3]} right>
        Volume:&nbsp;&nbsp;&nbsp;&nbsp; <b style={{ fontSize: 11 }}>0</b>
      </Txt>
    </>
  );
}

// ─── Panels ──────────────────────────────────────────────────────────────────

const MACD_DOMAIN: [number, number] = [-517, 329];
const MAIN_DOMAIN: [number, number] = [-1511, 1357];
const STOCH_DOMAIN: [number, number] = [-0.02, 1.045];
const CCI_DOMAIN: [number, number] = [-365, 313];
const RSI_DOMAIN: [number, number] = [-2.5, 106];
const PPO_DOMAIN: [number, number] = [-136500, 11900];

const lineProps = { dot: false, activeDot: false, isAnimationActive: false, type: 'linear' as const };
const smoothProps = { dot: false, activeDot: false, isAnimationActive: false, type: 'monotone' as const };

export default function App() {
  return (
    <div
      style={{
        position: 'absolute',
        left: 0,
        top: 0,
        width: W,
        height: 1200,
        background: '#fff',
        overflow: 'hidden',
        fontFamily: UI_FONT,
      }}
    >
      <style>{'.recharts-surface{overflow:visible}'}</style>
      <Header />

      {/* MACD */}
      <Panel
        top={71}
        plotH={138}
        domain={MACD_DOMAIN}
        ticks={range(300, -500, -100)}
        fmt={(v) => (v === 100 || v === 0 ? '' : String(v))}
      >
        <Area
          data={histRows}
          dataKey="v"
          baseValue={0}
          stroke="none"
          fill="#21688a"
          fillOpacity={1}
          {...smoothProps}
        />
        <Line data={signalRows} dataKey="v" stroke="#ee2a2a" strokeWidth={1} {...smoothProps} />
        <Line data={macdRows} dataKey="v" stroke="#111" strokeWidth={1.6} {...smoothProps} />
        {badgeLine(103.479, '103.479', '#ee2a2a')}
        {badgeLine(81.57, '81.570', '#111')}
        {badgeLine(-21.908, '-21.908', '#5a74c8', { textColor: '#333' })}
      </Panel>

      {/* Summation index with moving averages */}
      <Panel
        top={211}
        plotH={401}
        domain={MAIN_DOMAIN}
        ticks={range(1300, -1500, -100)}
        fmt={(v) => (v === 700 || v === 400 ? '' : String(v))}
        showMonths
      >
        <Line data={ma200Rows} dataKey="v" stroke="#e8283c" strokeWidth={1} {...smoothProps} />
        <Line data={ma50Rows} dataKey="v" stroke="#2a33c4" strokeWidth={1.1} {...smoothProps} />
        <Line data={ma20Rows} dataKey="v" stroke="#2c882c" strokeWidth={1.1} {...smoothProps} />
        {mainSlots.map((rows, i) => (
          <Line
            key={`main-${i}`}
            data={rows}
            dataKey="v"
            stroke={i < 2 ? '#141414' : '#e0163c'}
            strokeWidth={1.7}
            connectNulls={false}
            {...lineProps}
          />
        ))}
        {tagDates.map((t, i) => (
          <ReferenceDot
            key={`tag-${i}`}
            x={t}
            y={tagValues[i]}
            r={0}
            shape={(p: any) => (
              <PeakTag cx={p.cx} cy={p.cy} text={tagValues[i].toFixed(2)} side={tagSides[i]} />
            )}
          />
        ))}
        {badgeLine(734.79, '734.79', '#2c882c')}
        {badgeLine(727.72, '727.72', '#111', { bold: true, italic: true })}
        {badgeLine(416.21, '416.21', '#e8283c')}
        {badgeLine(375.36, '375.36', '#2a33c4')}
      </Panel>

      {/* StochRSI */}
      <Panel
        top={623}
        plotH={139}
        domain={STOCH_DOMAIN}
        ticks={[1, 0.9, 0.8, 0.7, 0.6, 0.5, 0.4, 0.3, 0.2, 0.1, 0]}
        fmt={(v) => ([1, 0.8, 0.5, 0.2].includes(v) ? v.toFixed(1) : '')}
      >
        {bandGradient('stochFill', STOCH_DOMAIN, 139, 0.8, 0.2)}
        <Area
          data={stochRows}
          dataKey="v"
          baseValue={0.5}
          stroke="#1a1a1a"
          strokeWidth={1}
          fill="url(#stochFill)"
          fillOpacity={1}
          {...lineProps}
        />
        {bandLines(0.8, 0.5, 0.2)}
        {badgeLine(0, '0.000', '#111')}
      </Panel>

      {/* CCI */}
      <Panel
        top={764}
        plotH={139}
        domain={CCI_DOMAIN}
        ticks={range(300, -350, -50)}
        fmt={(v) => (v === 0 || v === 300 ? '' : String(v))}
      >
        {bandGradient('cciFill', CCI_DOMAIN, 139, 100, -100)}
        <Area
          data={cciRows}
          dataKey="v"
          baseValue={0}
          stroke="#1a1a1a"
          strokeWidth={1}
          fill="url(#cciFill)"
          fillOpacity={1}
          {...lineProps}
        />
        {bandLines(100, 0, -100)}
        {badgeLine(-12.9, '-12.90', '#111')}
      </Panel>

      {/* RSI */}
      <Panel
        top={904}
        plotH={141}
        domain={RSI_DOMAIN}
        ticks={range(100, 0, -10)}
        fmt={(v) => ([90, 70, 50, 30, 10].includes(v) ? String(v) : '')}
      >
        {bandGradient('rsiFill', RSI_DOMAIN, 141, 70, 30)}
        <Area
          data={rsiRows}
          dataKey="v"
          baseValue={50}
          stroke="#1a1a1a"
          strokeWidth={1}
          fill="url(#rsiFill)"
          fillOpacity={1}
          {...lineProps}
        />
        {bandLines(70, 50, 30)}
        {badgeLine(62.69, '62.69', '#111')}
      </Panel>

      {/* PPO */}
      <Panel
        top={1046}
        plotH={141}
        domain={PPO_DOMAIN}
        ticks={range(0, -120000, -20000)}
        fmt={(v) => (v === 0 ? '' : v <= -100000 ? `${v / 1000}K` : String(v))}
        showMonths
      >
        <Line data={ppoRows} dataKey="v" stroke="#111" strokeWidth={1.5} {...lineProps} />
        {badgeLine(76.617, '76.617', '#111')}
      </Panel>

      {/* Legends */}
      <Legend y={74.5}>
        <Dash c="#111" />
        MACD(12,26,9) 81.570, <span style={{ color: '#ee2a2a' }}>103.479, </span>
        <span style={{ color: '#6d7fd6' }}>-21.908</span>
      </Legend>
      <Legend y={215.5}>
        <Dash c="#111" />
        !VMCSUMSPX (Daily) 727.72
      </Legend>
      <Legend y={224} size={7}>
        <Dash c="#2a33c4" />
        <span style={{ color: '#2a33c4' }}>MA(50) 375.36</span>
      </Legend>
      <Legend y={232.5} size={7}>
        <Dash c="#e8283c" />
        <span style={{ color: '#e8283c' }}>MA(200) 416.21</span>
      </Legend>
      <Legend y={241} size={7}>
        <Dash c="#2c882c" />
        <span style={{ color: '#2c882c' }}>MA(20) 734.79</span>
      </Legend>
      <Legend y={249} size={7}>
        <span
          style={{
            display: 'inline-block',
            width: 6,
            height: 5,
            borderLeft: '2px solid #777',
            borderRight: '2px solid #777',
            marginRight: 2,
            boxSizing: 'border-box',
          }}
        />
        <span style={{ color: '#666' }}>Volume undef</span>
      </Legend>
      <Legend y={630}>
        <Mountain />
        StochRSI(14) 0.000
      </Legend>
      <Legend y={771}>
        <Mountain />
        CCI(20) -12.90
      </Legend>
      <Legend y={911}>
        <Mountain />
        RSI(14) 62.69
      </Legend>
      <Legend y={1054}>
        <Dash c="#111" />
        PPO(25,125,1) 76.617, <span style={{ color: '#ee2a2a' }}>76.617, </span>
        <span style={{ color: '#6d7fd6' }}>0.000</span>
      </Legend>

      {/* Annotation overlay: red arrow and watermark */}
      <svg width={W} height={1200} style={{ position: 'absolute', left: 0, top: 0, pointerEvents: 'none' }}>
        <polygon
          points="895,225 910,225 910,248 917,248 902,273 887,248 895,248"
          fill="#e31b23"
          stroke="#111"
          strokeWidth={2}
          strokeLinejoin="miter"
        />
        <text x={475} y={559} textAnchor="middle" fontSize={30} fontWeight={700} fontFamily={UI_FONT} fill="#111">
          McClellan Summation Index
        </text>
        <text x={478} y={598} textAnchor="middle" fontSize={30} fontWeight={700} fontFamily={UI_FONT} fill="#1e9ae0">
          @FinanceLancelot
        </text>
      </svg>
    </div>
  );
}
